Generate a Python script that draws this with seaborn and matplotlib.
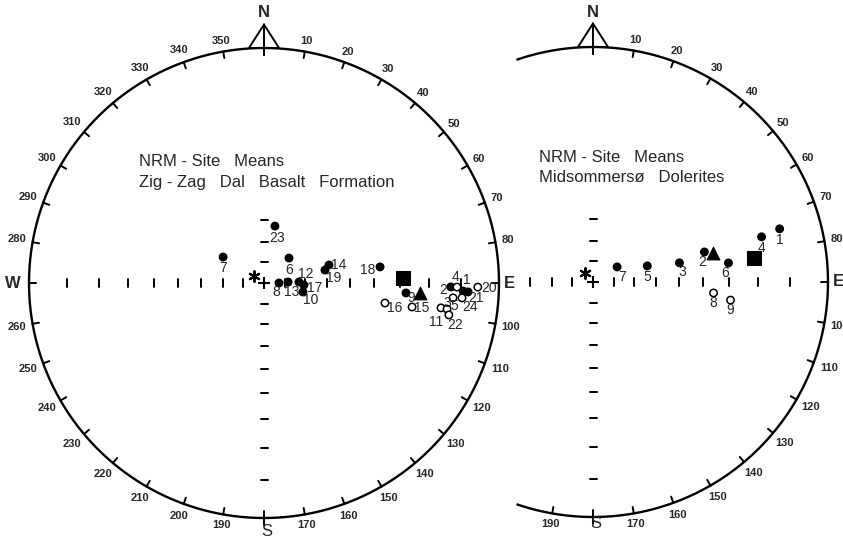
import numpy as np
import pandas as pd
import matplotlib
matplotlib.use("Agg")
import matplotlib.pyplot as plt
import seaborn as sns

# NRM site means, Zig-Zag Dal Basalt Formation (declination, inclination; negative = upper hemisphere)
zz_site = [str(i) for i in range(1, 25)]
zz_dec = [92.3, 91.2, 98.0, 91.2, 94.5, 45.0, 302.4, 90.0, 94.0, 103.0, 98.1, 88.4,
          87.6, 74.5, 99.2, 99.4, 92.9, 82.1, 78.0, 91.1, 92.5, 99.8, 10.9, 94.3]
zz_inc = [9.4, 13.0, -15.5, -11.2, -12.2, 72.9, 66.7, 82.7, 27.6, 70.7, -13.6, 73.1,
          78.3, 58.0, -24.9, -34.9, 70.7, 37.0, 60.3, -5.4, 8.0, -12.8, 62.3, -9.6]
zz_mean_a = (87.9, 28.7)   # square
zz_mean_b = (93.7, 22.7)   # triangle
zz_ref = (305.0, 84.0)     # asterisk

# NRM site means, Midsommersø Dolerites
md_site = [str(i) for i in range(1, 10)]
md_dec = [74.1, 74.9, 77.5, 75.0, 73.5, 82.0, 58.0, 95.2, 97.5]
md_inc = [10.9, 37.7, 48.7, 16.8, 62.9, 29.6, 76.2, -35.5, -28.9]
md_mean_a = (81.5, 20.7)
md_mean_b = (76.4, 34.4)
md_ref = (318.0, 84.0)

# label offsets in pixels (right, down) from each marker
zz_lab = {"1": (4, -11), "2": (-8, 3), "3": (6, -5), "4": (-1, -10), "5": (1, 8),
          "6": (0, 12), "7": (0, 11), "8": (-3, 9), "9": (5, 5), "10": (8, 8),
          "11": (-11, 13), "12": (7, -8), "13": (4, 10), "14": (10, 0), "15": (10, 1),
          "16": (10, 5), "17": (11, 3), "18": (-12, 3), "19": (9, 8), "20": (11, 1),
          "21": (8, 6), "22": (6, 10), "23": (2, 12), "24": (8, 9)}
md_lab = {"1": (0, 11), "2": (-2, 10), "3": (3, 9), "4": (0, 11), "5": (0, 11),
          "6": (-3, 10), "7": (5, 10), "8": (0, 10), "9": (0, 10)}

PX = 235.0  # pixels per unit radius
LEFT = (0.0, 0.0)
RIGHT = (329 / PX, 1 / PX)
FONT = ["Liberation Sans", "DejaVu Sans"]
LW = 1.4


def project(dec, inc):
    d = np.radians(np.asarray(dec, float))
    r = np.tan(np.radians(90 - np.abs(np.asarray(inc, float))) / 2)
    return r * np.sin(d), r * np.cos(d)


def site_frame(site, dec, inc, c):
    x, y = project(dec, inc)
    return pd.DataFrame({"site": site, "x": x + c[0], "y": y + c[1],
                         "hemi": np.where(np.asarray(inc) < 0, "up", "down")})


def draw_net(ax, c, az0, az1, labels, left_ticks, up_ticks, n_off, s_off, w_label):
    cx, cy = c
    az = np.radians(np.linspace(az0, az1, 600))
    ax.plot(cx + np.sin(az), cy + np.cos(az), color="black", lw=LW + 0.3, solid_capstyle="butt")
    for a in range(0, 360, 10):
        aa = a if a >= az0 else a - 360
        if not (az0 <= aa <= az1):
            continue
        t = np.radians(a)
        ax.plot([cx + np.sin(t), cx + 0.972 * np.sin(t)], [cy + np.cos(t), cy + 0.972 * np.cos(t)],
                color="black", lw=LW)
        if a in labels:
            txt = str(a)
            w, h = 6.8 * len(txt), 8.5
            off = (5 + 0.5 * (abs(np.sin(t)) * w + abs(np.cos(t)) * h)) / PX
            ax.text(cx + (1 + off) * np.sin(t), cy + (1 + off) * np.cos(t), txt, fontsize=8,
                    fontweight="bold", ha="center", va="center", family=FONT)
    # north arrow
    ax.fill([cx - 0.064, cx, cx + 0.064], [cy + 1.0, cy + 1.1, cy + 1.0], fill=False,
            edgecolor="black", lw=LW)
    ax.plot([cx, cx], [cy + 1.1, cy + 0.972], color="black", lw=LW)
    ax.text(cx, cy + 1.1 + n_off, "N", fontsize=12, fontweight="bold", ha="center", va="center", family=FONT)
    ax.text(cx + 0.01, cy - 1.0 - s_off, "S", fontsize=12, ha="center", va="center", family=FONT)
    ax.plot([cx, cx], [cy - 1.0, cy - 1.03], color="black", lw=LW)
    ax.text(cx + 1.0 + 10 / PX, cy, "E", fontsize=12, fontweight="bold", ha="center", va="center", family=FONT)
    if w_label:
        ax.text(cx - 1.0 - 16 / PX, cy, "W", fontsize=12, fontweight="bold", ha="center", va="center", family=FONT)
    # inclination graduations on the diameters
    incs = np.arange(10, 90, 10)
    r = np.tan(np.radians(90 - incs) / 2)
    for rr in r:
        ax.plot([cx + rr, cx + rr], [cy - 4 / PX, cy + 4 / PX], color="black", lw=LW)
        ax.plot([cx - 3.5 / PX, cx + 3.5 / PX], [cy - rr, cy - rr], color="black", lw=LW)
    for rr in r[-left_ticks:]:
        ax.plot([cx - rr, cx - rr], [cy - 4 / PX, cy + 4 / PX], color="black", lw=LW)
    for rr in r[-up_ticks:]:
        ax.plot([cx - 3.5 / PX, cx + 3.5 / PX], [cy + rr, cy + rr], color="black", lw=LW)
    ax.plot(cx, cy, marker="+", ms=9, mew=1.5, color="black")


def draw_points(ax, df, offsets, mean_a, mean_b, ref, c):
    sns.scatterplot(data=df, x="x", y="y", hue="hemi", palette={"down": "black", "up": "white"},
                    edgecolor="black", linewidth=1.1, s=28, legend=False, ax=ax, zorder=5)
    for _, row in df.iterrows():
        dx, dy = offsets[row["site"]]
        ax.annotate(row["site"], (row["x"], row["y"]), xytext=(dx, -dy), textcoords="offset pixels",
                    fontsize=10, ha="center", va="center", family=FONT, zorder=6)
    mx, my = project([mean_a[0]], [mean_a[1]])
    sns.scatterplot(x=mx + c[0], y=my + c[1], marker="s", s=90, color="black", edgecolor="black",
                    legend=False, ax=ax, zorder=5)
    tx, ty = project([mean_b[0]], [mean_b[1]])
    sns.scatterplot(x=tx + c[0], y=ty + c[1], marker="^", s=85, color="black", edgecolor="black",
                    legend=False, ax=ax, zorder=5)
    ax_, ay_ = project([ref[0]], [ref[1]])
    sns.scatterplot(x=ax_ + c[0], y=ay_ + c[1], marker=(6, 2, 0), s=60, color="black",
                    linewidth=1.5, legend=False, ax=ax, zorder=5)


sns.set_style("white")
plt.rcParams["font.family"] = FONT

fig = plt.figure(figsize=(8.43, 5.38), dpi=100)
ax = fig.add_axes([0, 0, 1, 1])
ax.set_xlim(-264 / PX, (843 - 264) / PX)
ax.set_ylim(-(538 - 283) / PX, 283 / PX)
ax.axis("off")

all_labels = [a for a in range(10, 360, 10) if a % 90 != 0]
draw_net(ax, LEFT, 0, 360, all_labels, 8, 3, 12 / PX, 14 / PX, True)
right_labels = [a for a in all_labels if a <= 190 or a == 350]
draw_net(ax, RIGHT, -19, 199, right_labels, 3, 3, 11 / PX, 7 / PX, False)

zz = site_frame(zz_site, zz_dec, zz_inc, LEFT)
md = site_frame(md_site, md_dec, md_inc, RIGHT)
draw_points(ax, zz, zz_lab, zz_mean_a, zz_mean_b, zz_ref, LEFT)
draw_points(ax, md, md_lab, md_mean_a, md_mean_b, md_ref, RIGHT)

ax.text(LEFT[0] - 125 / PX, 122 / PX, "NRM - Site   Means", fontsize=12, ha="left", va="center")
ax.text(LEFT[0] - 125 / PX, 100 / PX, "Zig - Zag   Dal   Basalt   Formation", fontsize=12,
        ha="left", va="center")
ax.text(RIGHT[0] - 54 / PX, RIGHT[1] + 125 / PX, "NRM - Site   Means", fontsize=12, ha="left", va="center")
ax.text(RIGHT[0] - 54 / PX, RIGHT[1] + 104 / PX, "Midsommersø   Dolerites", fontsize=12,
        ha="left", va="center")

fig.savefig("out.png", dpi=100)
